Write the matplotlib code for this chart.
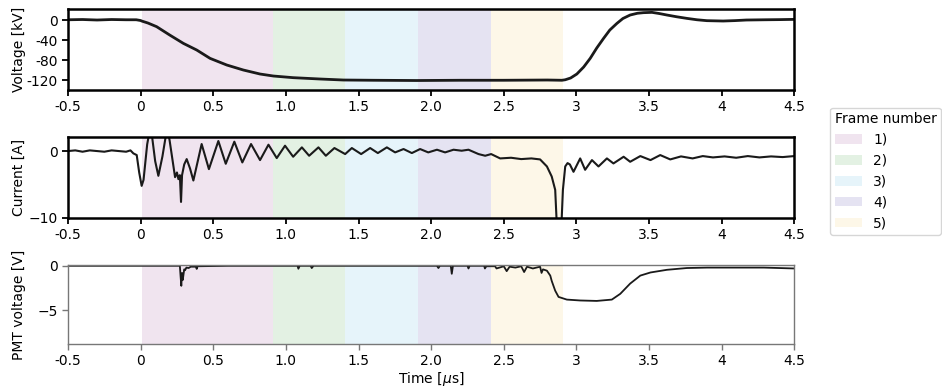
import matplotlib
matplotlib.use("Agg")
import matplotlib.pyplot as plt
from matplotlib.patches import Patch

# ---- waveform samples (time in microseconds) ----
volt_t = [-0.5, -0.4, -0.3, -0.2, -0.1, -0.03, 0.0, 0.007, 0.05, 0.11, 0.2, 0.294,
          0.386, 0.478, 0.593, 0.707, 0.822, 0.914, 1.05, 1.236, 1.396, 1.6,
          1.9, 2.2, 2.5, 2.8, 2.9, 2.923, 2.96, 3.003, 3.05, 3.095, 3.14, 3.187,
          3.23, 3.279, 3.32, 3.37, 3.42, 3.462, 3.52, 3.57, 3.623, 3.69, 3.76,
          3.83, 3.898, 4.01, 4.09, 4.17, 4.3, 4.4, 4.5]
volt_kv = [0.5, 1.0, 0.0, 1.0, 0.5, 0.5, -1.0, -2.0, -6.0, -13.3, -30.0, -46.7,
           -60.0, -76.7, -90.0, -100.0, -108.0, -112.0, -115.3, -118.0, -120.0, -120.5,
           -121.0, -120.5, -120.5, -120.0, -120.5, -119.5, -116.0, -108.0, -94.0, -76.7, -56.0, -36.7,
           -20.0, -6.7, 3.0, 10.0, 13.5, 14.7, 15.3, 13.0, 10.0, 6.5, 3.3,
           0.5, -1.3, -2.0, -1.2, 0.0, 0.5, 0.8, 1.3]

curr_t = [-0.5, -0.45, -0.4, -0.35, -0.3, -0.25, -0.2, -0.15, -0.1, -0.07, -0.05,
          -0.027, -0.01, 0.007, 0.02, 0.045, 0.06, 0.075, 0.1, 0.122, 0.15, 0.175,
          0.19, 0.2, 0.237, 0.25, 0.26, 0.27, 0.278, 0.285, 0.3, 0.317, 0.34, 0.363,
          0.42, 0.47, 0.535, 0.586, 0.645, 0.70, 0.76, 0.822, 0.88, 0.937, 0.994,
          1.05, 1.11, 1.16, 1.224, 1.275, 1.334, 1.408, 1.454, 1.518, 1.58, 1.633,
          1.695, 1.752, 1.81, 1.867, 1.924, 1.98, 2.04, 2.096, 2.154, 2.21, 2.257,
          2.326, 2.372, 2.413, 2.475, 2.55, 2.62, 2.69, 2.75, 2.797, 2.83, 2.854,
          2.865, 2.897, 2.907, 2.923, 2.939, 2.955, 2.98, 3.026, 3.06, 3.107, 3.152,
          3.21, 3.255, 3.325, 3.37, 3.44, 3.51, 3.577, 3.646, 3.72, 3.8, 3.87, 3.94,
          4.02, 4.1, 4.18, 4.26, 4.34, 4.42, 4.5]
curr_a = [0.0, 0.1, -0.1, 0.1, 0.0, -0.1, 0.1, 0.0, -0.1, 0.1, -0.35,
          -0.6, -3.2, -5.2, -4.3, 1.0, 2.8, 2.8, -1.5, -3.7, -0.8, 2.5,
          2.8, 1.5, -3.9, -3.2, -4.2, -3.6, -7.6, -3.6, -2.0, -1.2, -2.6, -4.4,
          1.05, -2.7, 1.5, -1.9, 1.4, -1.7, 1.05, -1.35, 0.95, -1.05, 0.8,
          -0.85, 0.55, -0.7, 0.55, -0.7, 0.45, -0.45, 0.45, -0.45, 0.45, -0.3,
          0.55, -0.2, 0.3, -0.3, 0.3, -0.2, 0.2, -0.2, 0.2, 0.05, 0.2,
          -0.45, -0.7, -0.45, -1.1, -1.0, -1.2, -1.1, -1.25, -2.3, -3.8, -5.8,
          -11.0, -11.0, -5.8, -2.3, -1.8, -2.0, -3.1, -1.1, -2.8, -1.35, -2.3,
          -1.1, -1.85, -0.85, -1.6, -0.75, -1.35, -0.6, -1.25, -0.8, -1.1, -0.75, -0.95,
          -0.8, -1.0, -0.75, -0.95, -0.8, -0.9, -0.75]

pmt_t = [-0.5, -0.2, 0.0, 0.2, 0.27, 0.275, 0.28, 0.285, 0.29, 0.3, 0.306, 0.315,
         0.33, 0.345, 0.38, 0.386, 0.392, 0.6, 1.08, 1.086, 1.095, 1.17, 1.178,
         1.19, 1.6, 2.04, 2.05, 2.06, 2.135, 2.142, 2.15, 2.25, 2.257, 2.265,
         2.365, 2.37, 2.38, 2.44, 2.45, 2.5, 2.52, 2.54, 2.58, 2.62, 2.64, 2.66,
         2.7, 2.75, 2.76, 2.77, 2.797, 2.82, 2.83, 2.854, 2.877, 2.934, 3.026,
         3.14, 3.244, 3.302, 3.37, 3.44, 3.51, 3.623, 3.76, 3.9, 4.29, 4.5]
pmt_v = [0.0, 0.0, 0.0, 0.0, 0.0, -1.2, -2.25, -0.8, -1.6, -0.4, -0.5, -0.2,
         -0.25, -0.1, -0.1, -0.35, -0.05, 0.0, 0.0, -0.33, 0.0, 0.0, -0.25,
         0.0, 0.0, 0.0, -0.25, 0.0, 0.0, -0.9, 0.0, 0.0, -0.3, 0.0,
         0.0, -0.3, -0.05, -0.05, -0.3, -0.05, -0.6, -0.1, -0.2, -0.05, -0.7, -0.1,
         -0.3, -0.1, -0.8, -0.4, -0.55, -1.1, -1.7, -2.8, -3.5, -3.8, -3.9,
         -3.95, -3.8, -3.15, -2.0, -1.1, -0.75, -0.45, -0.25, -0.2, -0.2, -0.3]

# ---- frame windows ----
frame_labels = ["1)", "2)", "3)", "4)", "5)"]
frame_start = [0.01, 0.91, 1.41, 1.91, 2.41]
frame_end = [0.91, 1.41, 1.91, 2.41, 2.91]
frame_colors = ["#f0e4ef", "#e3f1e3", "#e6f4fa", "#e5e3f2", "#fdf7e8"]

xticks = [-0.5, 0, 0.5, 1.0, 1.5, 2.0, 2.5, 3, 3.5, 4, 4.5]
xtick_labels = ["-0.5", "0", "0.5", "1.0", "1.5", "2.0", "2.5", "3", "3.5", "4", "4.5"]
volt_ticks = [0, -40, -80, -120]
volt_tick_labels = ["0", "-40", "-80", "-120"]

plt.rcParams["font.family"] = ["DejaVu Sans"]
plt.rcParams["font.size"] = 10

fig = plt.figure(figsize=(9.42, 3.87), dpi=100)
left, width = 0.0722, 0.771
ax1 = fig.add_axes([left, 0.7674, width, 0.2093])
ax2 = fig.add_axes([left, 0.4367, width, 0.2093])
ax3 = fig.add_axes([left, 0.111, width, 0.204])

line_color = "#1a1a1a"
for ax in (ax1, ax2, ax3):
    for s, e, c in zip(frame_start, frame_end, frame_colors):
        ax.axvspan(s, e, color=c, lw=0, zorder=0)
    ax.set_xlim(-0.5, 4.5)
    ax.set_xticks(xticks)
    ax.set_xticklabels(xtick_labels)

ax1.plot(volt_t, volt_kv, color=line_color, lw=2.0)
ax1.set_ylim(-140, 22)
ax1.set_yticks(volt_ticks)
ax1.set_yticklabels(volt_tick_labels)
ax1.set_ylabel("Voltage [kV]")

ax2.plot(curr_t, curr_a, color=line_color, lw=1.5)
ax2.set_ylim(-10, 2.1)
ax2.set_yticks([-10, 0])
ax2.set_ylabel("Current [A]")

ax3.plot(pmt_t, pmt_v, color=line_color, lw=1.3)
ax3.set_ylim(-8.8, 0.08)
ax3.set_yticks([-5, 0])
ax3.set_ylabel("PMT voltage [V]")
ax3.set_xlabel("Time [$\\mu$s]", labelpad=1)

for ax in (ax1, ax2):
    for sp in ax.spines.values():
        sp.set_linewidth(1.8)
        sp.set_color("black")
    ax.tick_params(width=1.3, length=4, color="black")
for sp in ax3.spines.values():
    sp.set_linewidth(1.0)
    sp.set_color("#777777")
ax3.tick_params(width=1.0, length=4, color="#777777")

for ax in (ax1, ax2, ax3):
    ax.yaxis.set_label_coords(-0.058, 0.5)

handles = [Patch(facecolor=c, edgecolor="none") for c in frame_colors]
fig.legend(handles, frame_labels, title="Frame number", loc="center left",
           bbox_to_anchor=(0.8815, 0.558), frameon=True, fontsize=10,
           title_fontsize=10, handlelength=2.0, borderaxespad=0.0,
           borderpad=0.3, handletextpad=0.8, alignment="left")

fig.savefig("out.png", dpi=100)
